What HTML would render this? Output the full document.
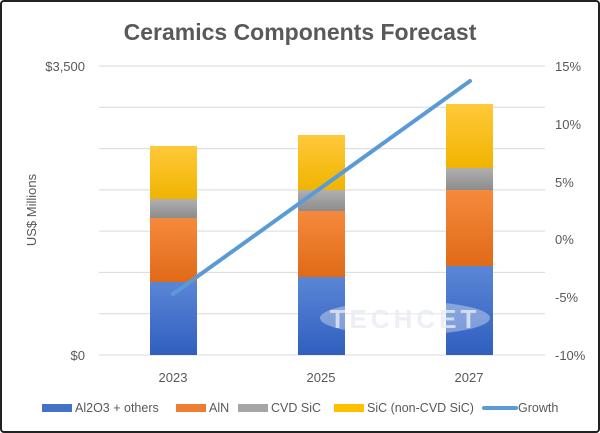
<!DOCTYPE html>
<html><head><style>
body{margin:0;width:600px;height:433px;overflow:hidden;background:#fff}
svg{display:block}
text{font-family:"Liberation Sans",sans-serif;fill:#595959}
</style></head><body>
<svg width="600" height="433" viewBox="0 0 600 433">
<defs>
<linearGradient id="b" x1="0" y1="0" x2="0" y2="1"><stop offset="0" stop-color="#5b86d6"/><stop offset="1" stop-color="#2f5fbf"/></linearGradient>
<linearGradient id="o" x1="0" y1="0" x2="0" y2="1"><stop offset="0" stop-color="#f58a3c"/><stop offset="1" stop-color="#e06a18"/></linearGradient>
<linearGradient id="g" x1="0" y1="0" x2="0" y2="1"><stop offset="0" stop-color="#b0b0b0"/><stop offset="1" stop-color="#8c8c8c"/></linearGradient>
<linearGradient id="y" x1="0" y1="0" x2="0" y2="1"><stop offset="0" stop-color="#ffc93a"/><stop offset="1" stop-color="#f0b400"/></linearGradient>
</defs>
<rect x="1" y="1" width="598" height="431" rx="3" fill="#fff" stroke="#222" stroke-width="2"/>
<text x="300" y="40" text-anchor="middle" font-size="23" font-weight="bold">Ceramics Components Forecast</text>
<g stroke="#d9d9d9" stroke-width="1">
<line x1="99" x2="545" y1="66" y2="66"/><line x1="99" x2="545" y1="107.3" y2="107.3"/><line x1="99" x2="545" y1="148.6" y2="148.6"/><line x1="99" x2="545" y1="189.9" y2="189.9"/><line x1="99" x2="545" y1="231.1" y2="231.1"/><line x1="99" x2="545" y1="272.4" y2="272.4"/><line x1="99" x2="545" y1="313.7" y2="313.7"/><line x1="99" x2="545" y1="355" y2="355"/>
</g>
<text x="85" y="71" text-anchor="end" font-size="13">$3,500</text>
<text x="85" y="360" text-anchor="end" font-size="13">$0</text>
<g font-size="13"><text x="555" y="71">15%</text><text x="555" y="129">10%</text><text x="555" y="187">5%</text><text x="555" y="244">0%</text><text x="555" y="302">-5%</text><text x="555" y="360">-10%</text></g>
<text transform="translate(36,210) rotate(-90)" text-anchor="middle" font-size="13">US$ Millions</text>
<g>
<rect x="150" y="282" width="47" height="73" fill="url(#b)"/><rect x="150" y="218" width="47" height="64" fill="url(#o)"/><rect x="150" y="199" width="47" height="19" fill="url(#g)"/><rect x="150" y="146" width="47" height="53" fill="url(#y)"/>
<rect x="298" y="277" width="47" height="78" fill="url(#b)"/><rect x="298" y="211" width="47" height="66" fill="url(#o)"/><rect x="298" y="190" width="47" height="21" fill="url(#g)"/><rect x="298" y="135" width="47" height="55" fill="url(#y)"/>
<rect x="446" y="266" width="47" height="89" fill="url(#b)"/><rect x="446" y="190" width="47" height="76" fill="url(#o)"/><rect x="446" y="168" width="47" height="22" fill="url(#g)"/><rect x="446" y="104" width="47" height="64" fill="url(#y)"/>
</g>
<ellipse cx="405" cy="318" rx="85" ry="17" fill="#fff" opacity="0.35"/>
<text x="405" y="328" text-anchor="middle" font-size="26" font-weight="bold" letter-spacing="4" style="fill:#e8ecf4;opacity:0.8">TECHCET</text>
<line x1="173" y1="294" x2="470" y2="81" stroke="#5b9bd5" stroke-width="4" stroke-linecap="round"/>
<g font-size="13"><text x="173" y="382" text-anchor="middle">2023</text><text x="321" y="382" text-anchor="middle">2025</text><text x="469" y="382" text-anchor="middle">2027</text></g>
<g font-size="12.5">
<rect x="42" y="404" width="30" height="8" fill="#4472c4"/><text x="75" y="412">Al2O3 + others</text>
<rect x="176" y="404" width="30" height="8" fill="#ed7d31"/><text x="209" y="412">AlN</text>
<rect x="238" y="404" width="30" height="8" fill="#a5a5a5"/><text x="271" y="412">CVD SiC</text>
<rect x="334" y="404" width="30" height="8" fill="#ffc000"/><text x="367" y="412">SiC (non-CVD SiC)</text>
<line x1="484" y1="408" x2="516" y2="408" stroke="#5b9bd5" stroke-width="4" stroke-linecap="round"/><text x="518" y="412">Growth</text>
</g>
</svg>
</body></html>
